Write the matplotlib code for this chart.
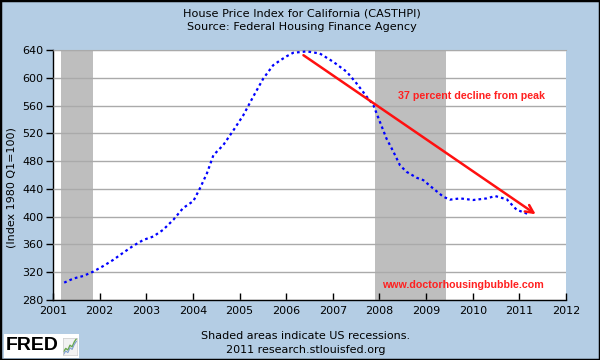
import numpy as np
import matplotlib
matplotlib.use("Agg")
import matplotlib.pyplot as plt
from matplotlib.patches import Rectangle

# Datos
# ======================================================================================
fechas = [2001.24, 2001.44, 2001.65, 2001.86, 2002.08, 2002.29, 2002.51, 2002.72,
          2002.94, 2003.15, 2003.36, 2003.58, 2003.79, 2004.01, 2004.15, 2004.30,
          2004.44, 2004.65, 2004.87, 2005.08, 2005.29, 2005.51, 2005.72, 2005.87,
          2006.01, 2006.15, 2006.30, 2006.44, 2006.72, 2007.01, 2007.30, 2007.51,
          2007.73, 2007.87, 2008.01, 2008.15, 2008.30, 2008.44, 2008.58, 2008.80,
          2008.94, 2009.15, 2009.37, 2009.51, 2009.73, 2010.01, 2010.30, 2010.48,
          2010.73, 2010.94, 2011.19]
indice = [305, 311, 314.6, 320.8, 329, 337.7, 348.3, 358,
          366.6, 371.4, 381, 395.5, 412.4, 422.5, 440.7, 462.3,
          488.6, 503, 524.5, 546, 572.5, 599, 618, 625,
          631, 636, 637, 638, 635, 623, 608.5, 591.8,
          572.5, 560.6, 536.5, 512.6, 493.4, 474, 464.6, 456,
          452.6, 440.7, 428.7, 424.5, 426.3, 424, 426.3, 429.7,
          425, 410, 403.7]

recesiones = [(2001.17, 2001.86), (2007.91, 2009.42)]

anios = list(range(2001, 2013))
niveles = list(range(280, 641, 40))

flecha_inicio = (2006.37, 632.5)
flecha_fin = (2011.35, 403.5)

# Figura
# ======================================================================================
fondo = "#b4cde4"
fig = plt.figure(figsize=(6, 3.6), dpi=100, facecolor=fondo)
ax = fig.add_axes([53 / 600, 60 / 360, 513 / 600, 250 / 360])

for ini, fin in recesiones:
    ax.axvspan(ini, fin, color="#bebebe", lw=0, zorder=1)

ax.plot(fechas, indice, color="#0000ff", lw=1.6, ls=(0, (1.2, 1.4)), zorder=3)

ax.annotate("", xy=flecha_fin, xytext=flecha_inicio,
            arrowprops=dict(arrowstyle="->", color="#ff1010", lw=1.8,
                            mutation_scale=14, shrinkA=0, shrinkB=0), zorder=4)

ax.text(2008.40, 573.5, "37 percent decline from peak", color="#ff2020",
        fontsize=7.7, fontweight="bold", family="Liberation Sans",
        ha="left", va="center", zorder=5)
ax.text(2009.80, 301, "www.doctorhousingbubble.com", color="#ff2020",
        fontsize=7.7, fontweight="bold", family="Liberation Sans",
        ha="center", va="center", zorder=5)

ax.set_xlim(2001, 2012)
ax.set_ylim(280, 640)
ax.set_xticks(anios)
ax.set_yticks(niveles)
ax.yaxis.grid(True, color="#aaaaaa", lw=1)
ax.set_axisbelow(False)
for gl in ax.get_ygridlines():
    gl.set_zorder(2)

ax.tick_params(axis="x", direction="in", length=5, labelsize=8, pad=4, width=1)
ax.tick_params(axis="y", direction="out", length=5, labelsize=8, pad=2, width=1)
ax.spines["right"].set_visible(False)
ax.spines["top"].set_color("#aaaaaa")
ax.spines["left"].set_linewidth(1)
ax.spines["bottom"].set_linewidth(1)

fig.text(302 / 600, 1 - 13 / 360, "House Price Index for California (CASTHPI)",
         ha="center", va="center", fontsize=8.1)
fig.text(302 / 600, 1 - 27 / 360, "Source: Federal Housing Finance Agency",
         ha="center", va="center", fontsize=8.1)
fig.text(12 / 600, 1 - 188 / 360, "(Index 1980 Q1=100)", rotation=90,
         ha="center", va="center", fontsize=8)
fig.text(306 / 600, 1 - 336 / 360, "Shaded areas indicate US recessions.",
         ha="center", va="center", fontsize=8)
fig.text(306 / 600, 1 - 350 / 360, "2011 research.stlouisfed.org",
         ha="center", va="center", fontsize=8)

# Logo FRED
fig.patches.append(Rectangle((4 / 600, 1 - 358 / 360), 75 / 600, 24 / 360,
                             transform=fig.transFigure, facecolor="white",
                             edgecolor="none", zorder=-1))
fig.text(6 / 600, 1 - 346 / 360, "FRED", fontsize=14, fontweight="black",
         family="Liberation Sans", ha="left", va="center")
logo_x = [0, 1, 2, 3, 4, 5, 6]
logo_y = [1, 2, 1.5, 3, 2.5, 4, 5]
logo = fig.add_axes([63 / 600, 1 - 355 / 360, 14 / 600, 17 / 360])
logo.set_zorder(5)
logo.plot(logo_x, logo_y, color="#6aa84f", lw=1)
logo.plot(logo_x, [v - 0.8 for v in logo_y], color="#7f9fcf", lw=0.8)
logo.set_xticks([])
logo.set_yticks([])
logo.set_facecolor("#f2f2f2")
for s in logo.spines.values():
    s.set_color("#cccccc")
    s.set_linewidth(0.5)

# Borde de la figura
fig.patches.append(Rectangle((0, 0), 1, 1, transform=fig.transFigure,
                             fill=False, edgecolor="black", lw=2.5, zorder=10))

fig.savefig("out.png", dpi=100, facecolor=fondo)
